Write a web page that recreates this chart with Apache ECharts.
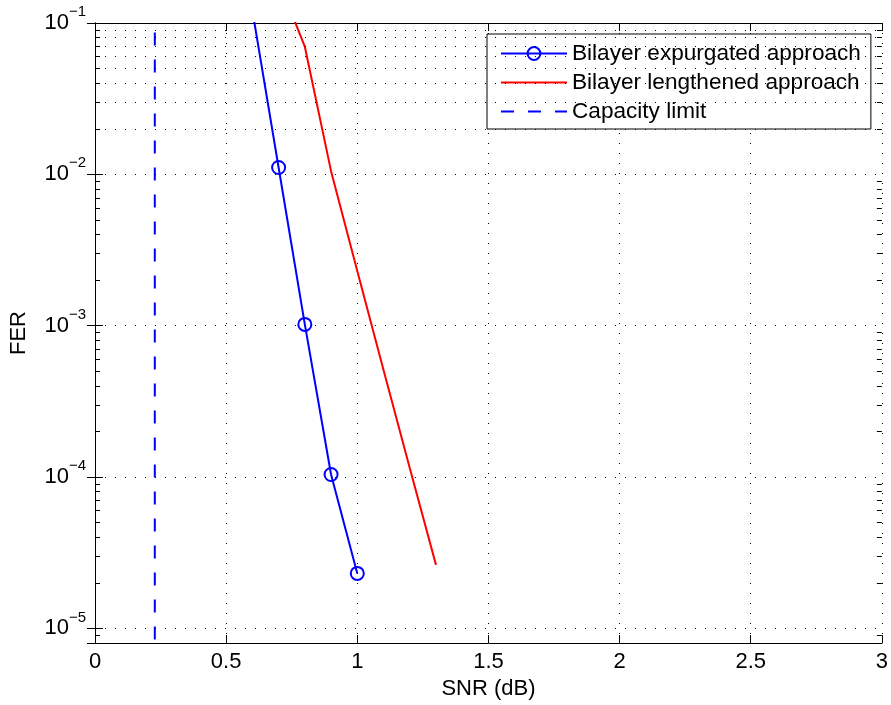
<!DOCTYPE html>
<html><head><meta charset="utf-8">
<script src="https://cdn.jsdelivr.net/npm/echarts@6/dist/echarts.min.js"></script>
<style>html,body{margin:0;padding:0;background:#fff}#c{width:891px;height:705px}</style>
</head><body><div id="c"></div>
<script>
// ---- data ----
const seriesNames = ['Bilayer expurgated approach', 'Bilayer lengthened approach', 'Capacity limit'];
const snrExpurgated = [0.6, 0.7, 0.8, 0.9, 1.0];
const ferExpurgated = [0.121, 0.0111, 0.00102, 0.000104, 0.0000231];
const snrLengthened = [0.7, 0.8, 0.9, 1.0, 1.1, 1.2, 1.3];
const ferLengthened = [0.19, 0.0697, 0.0105, 0.0023, 0.00051, 0.000115, 0.0000263];
const snrCapacity = [0.228, 0.228];
const ferCapacity = [0.0866, 0.000001];
const xTicks = [0, 0.5, 1, 1.5, 2, 2.5, 3];
const yDecades = [1e-6, 1e-5, 1e-4, 1e-3, 1e-2];
const minorMultipliers = [2, 3, 4, 5, 6, 7, 8, 9];
const xMin = 0, xMax = 3, yMin = 8e-6, yMax = 0.1;

const FONT = '"Liberation Sans", Arial, Helvetica, sans-serif';
const zip = (a, b) => a.map((v, i) => [v, b[i]]);

const minorVals = [];
yDecades.forEach(d => minorMultipliers.forEach(m => { const v = m * d; if (v > yMin * 1.0001 && v < yMax) minorVals.push(v); }));
const minorTickLen = 5 / 263;
const dotted = { type: [1, 9], color: '#000', width: 1 };

const gridMark = [];
minorVals.forEach(v => gridMark.push({ yAxis: v, lineStyle: dotted }));
minorVals.forEach(v => {
  gridMark.push([{ coord: [xMin, v], lineStyle: { type: 'solid', color: '#000', width: 1 } }, { coord: [xMin + minorTickLen, v] }]);
  gridMark.push([{ coord: [xMax - minorTickLen, v], lineStyle: { type: 'solid', color: '#000', width: 1 } }, { coord: [xMax, v] }]);
});

const chart = echarts.init(document.getElementById('c'), null, { renderer: 'canvas' });
const axisLineBlack = { show: true, lineStyle: { color: '#000', width: 1 } };
chart.setOption({
  animation: false,
  backgroundColor: '#fff',
  textStyle: { fontFamily: FONT },
  grid: { left: 93, right: 9, top: 23, bottom: 60, containLabel: false },
  xAxis: [{
    type: 'value', min: xMin, max: xMax, interval: 0.5, position: 'bottom',
    axisLine: axisLineBlack,
    axisTick: { show: true, inside: true, length: 8, lineStyle: { color: '#000' } },
    axisLabel: { color: '#000', fontSize: 22, fontFamily: FONT, margin: 8, formatter: v => String(v) },
    splitLine: { show: true, lineStyle: dotted },
    name: 'SNR (dB)', nameLocation: 'middle', nameGap: 34,
    nameTextStyle: { color: '#000', fontSize: 22, fontFamily: FONT }
  }, {
    type: 'value', min: xMin, max: xMax, interval: 0.5, position: 'top',
    axisLine: axisLineBlack,
    axisTick: { show: true, inside: true, length: 8, lineStyle: { color: '#000' } },
    axisLabel: { show: false }, splitLine: { show: false }
  }],
  yAxis: [{
    type: 'log', logBase: 10, min: yMin, max: yMax, position: 'left',
    axisLine: axisLineBlack,
    axisTick: { show: true, inside: true, length: 8, lineStyle: { color: '#000' } },
    splitLine: { show: true, lineStyle: dotted },
    axisLabel: {
      margin: 9,
      formatter: v => {
        const e = Math.log10(v); const r = Math.round(e);
        if (Math.abs(e - r) > 1e-6) return '';
        return '{b|10}{s|\u2212' + (-r) + '}';
      },
      rich: {
        b: { fontSize: 22, lineHeight: 22, color: '#000', fontFamily: FONT },
        s: { fontSize: 15, lineHeight: 15, padding: [0, 0, 22, 0], color: '#000', fontFamily: FONT }
      }
    },
    name: 'FER', nameLocation: 'middle', nameGap: 65,
    nameTextStyle: { color: '#000', fontSize: 22, fontFamily: FONT }
  }, {
    type: 'log', logBase: 10, min: yMin, max: yMax, position: 'right',
    axisLine: axisLineBlack,
    axisTick: { show: true, inside: true, length: 8, lineStyle: { color: '#000' } },
    axisLabel: { show: false }, splitLine: { show: false }
  }],
  legend: {
    data: [
      { name: seriesNames[0] },
      { name: seriesNames[1], itemStyle: { opacity: 0 } },
      { name: seriesNames[2], itemStyle: { opacity: 0 } }
    ],
    orient: 'vertical', left: 487, top: 34,
    padding: [8, 10, 6, 13], itemGap: 6, itemWidth: 66, itemHeight: 16,
    backgroundColor: '#fff', borderColor: '#000', borderWidth: 1, borderRadius: 0,
    textStyle: { fontSize: 22.6, lineHeight: 22, color: '#000', fontFamily: FONT }
  },
  series: [{
    name: '_grid', type: 'line', data: [], silent: true, z: 1,
    markLine: { silent: true, symbol: 'none', label: { show: false }, animation: false, data: gridMark }
  }, {
    name: seriesNames[0], type: 'line', z: 5, data: zip(snrExpurgated, ferExpurgated),
    symbol: 'circle', symbolSize: 13, showAllSymbol: true,
    lineStyle: { color: '#0000ff', width: 2 },
    itemStyle: { color: 'rgba(0,0,0,0)', borderColor: '#0000ff', borderWidth: 2 }
  }, {
    name: seriesNames[1], type: 'line', z: 4, data: zip(snrLengthened, ferLengthened),
    symbol: 'none', lineStyle: { color: '#ff0000', width: 2 }, itemStyle: { color: '#ff0000' }
  }, {
    name: seriesNames[2], type: 'line', z: 4, data: zip(snrCapacity, ferCapacity),
    symbol: 'none', lineStyle: { color: '#0000ff', width: 2, type: [13, 14] }, itemStyle: { color: '#0000ff' }
  }]
});
</script></body></html>
